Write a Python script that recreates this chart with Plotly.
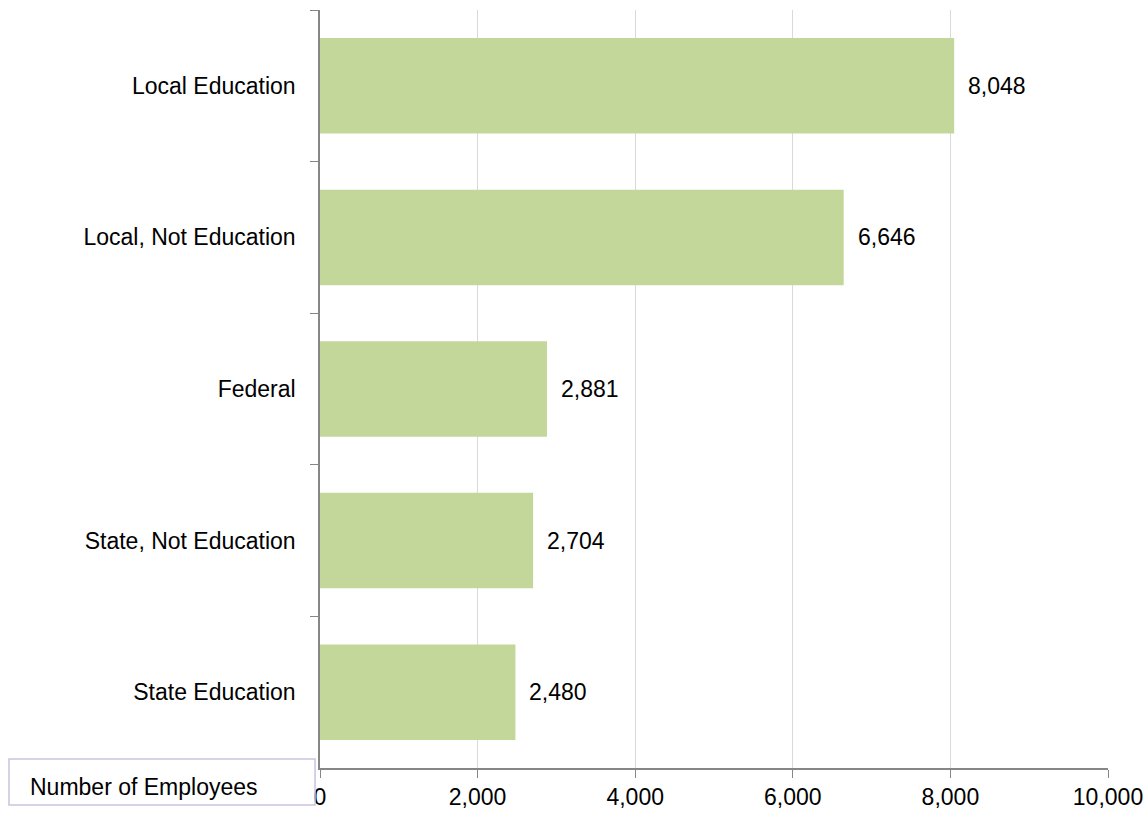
import plotly.graph_objects as go

categories = ["Local Education", "Local, Not Education", "Federal", "State, Not Education", "State Education"]
values = [8048, 6646, 2881, 2704, 2480]
x_ticks = [0, 2000, 4000, 6000, 8000, 10000]
x_tick_labels = ["0", "2,000", "4,000", "6,000", "8,000", "10,000"]
axis_title = "Number of Employees"

FONT = "Liberation Sans, Arial, sans-serif"
FS = 23
fig = go.Figure()
fig.add_trace(go.Bar(
    x=values, y=categories, orientation="h",
    marker=dict(color="#C4D79B", line=dict(width=0)),
    hoverinfo="skip",
))
for c, v in zip(categories, values):
    fig.add_annotation(x=v, y=c, xref="x", yref="y", text=f"{v:,}",
                       showarrow=False, xanchor="left", yanchor="middle",
                       xshift=12, font=dict(family=FONT, size=FS, color="black"))

fig.add_shape(type="rect", xref="paper", yref="paper",
              x0=-0.3947, x1=-0.0063, y0=-0.0488, y1=0.0119,
              line=dict(color="#C9C3DF", width=1.5), fillcolor="rgba(0,0,0,0)")
fig.add_annotation(xref="paper", yref="paper", x=-0.3706, y=-0.0251,
                   text=axis_title, showarrow=False, xanchor="left", yanchor="middle",
                   font=dict(family=FONT, size=FS, color="black"))

fig.update_layout(
    width=1145, height=815,
    margin=dict(l=320, r=37, t=10, b=47, autoexpand=False),
    paper_bgcolor="white", plot_bgcolor="white",
    bargap=0.37, showlegend=False,
    font=dict(family=FONT, size=FS, color="black"),
)
fig.update_xaxes(range=[0, 10000], tickvals=x_ticks, ticktext=x_tick_labels,
                 automargin=False,
                 showgrid=True, gridcolor="#D9D9D9", gridwidth=1,
                 showline=True, linecolor="#868686", linewidth=1.5,
                 ticks="outside", ticklen=8, tickcolor="#868686",
                 zeroline=False, tickfont=dict(family=FONT, size=FS, color="black"))
fig.update_yaxes(autorange="reversed", type="category", tickson="boundaries",
                 automargin=False,
                 showgrid=False, showline=True, linecolor="#868686", linewidth=1.5,
                 ticks="outside", ticklen=8, tickcolor="#868686",
                 ticklabelstandoff=18,
                 tickfont=dict(family=FONT, size=FS, color="black"))

fig.write_html("out.html")
